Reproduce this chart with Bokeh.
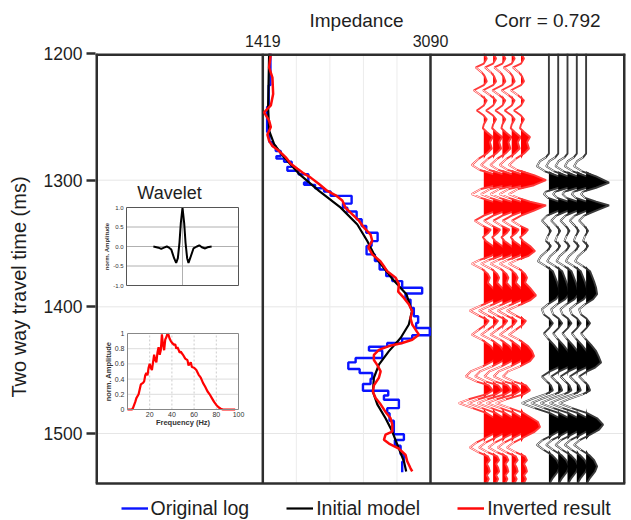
import numpy as np
from bokeh.plotting import figure
from bokeh.models import (Range1d, LinearAxis, FixedTicker, Legend, LegendItem,
                          CustomJSTickFormatter)
from bokeh.core.properties import value
from bokeh.embed import file_html
from bokeh.resources import INLINE

FONT = "Liberation Sans"

# ---------------- data ----------------
y_ticks = [1200, 1300, 1400, 1500]
imp_ticks = [1419, 3090]

# Original log (blocky): layer tops (ms) and impedance
blue_top = [1200, 1225, 1242, 1262, 1270, 1273, 1277, 1281, 1283, 1285.5,
            1289.5, 1292.6, 1295.3, 1301.9, 1303.7, 1306.4, 1309, 1312.4, 1318.5, 1321.7,
            1324.8, 1330.9, 1336.2, 1341.5, 1348.1, 1352, 1358.6, 1363.9, 1370.5, 1375.8,
            1379.7, 1385, 1389.5, 1394.3, 1400.8, 1407.4, 1412.7, 1416.7, 1422.5, 1425.1,
            1428.6, 1431.5, 1434.6, 1440.4, 1443.9, 1449.1, 1452.3, 1456.8, 1461, 1466.3,
            1470, 1473.4, 1480, 1484, 1490, 1500.6, 1505.1, 1509.6, 1516.4, 1522.3]
blue_imp = [1495, 1478, 1462, 1485, 1515, 1548, 1598, 1555, 1631, 1707,
            1664, 1774, 1873, 1830, 1940, 2029, 2095, 2304, 2218, 2261,
            2354, 2404, 2450, 2563, 2503, 2453, 2536, 2583, 2649, 2709,
            2808, 3007, 2841, 2891, 2924, 2967, 2947, 3083, 2908, 2808,
            2659, 2477, 2609, 2344, 2271, 2384, 2510, 2493, 2417, 2669,
            2626, 2775, 2659, 2682, 2725, 2825, 2735, 2792, 2825, 2808]
blue_end = 1530.7

# Initial model
black_t = [1200, 1242, 1261, 1271.5, 1282, 1295, 1308.5, 1321.7, 1335, 1348, 1361, 1377, 1390,
           1403.5, 1414, 1424.6, 1435, 1445.7, 1456, 1467, 1477, 1488, 1498.5, 1512, 1522, 1530]
black_imp = [1482, 1472, 1482, 1532, 1631, 1780, 1979, 2195, 2361, 2460, 2543, 2700, 2850,
             2905, 2874, 2792, 2676, 2576, 2526, 2516, 2560, 2642, 2709, 2775, 2825, 2848]

# Inverted result
red_t = [1200, 1211, 1219, 1232, 1241, 1246.5, 1253, 1258, 1264, 1269,
         1273, 1277, 1282, 1287, 1291, 1294, 1298, 1303, 1308.5, 1312,
         1316, 1322, 1327, 1332, 1337.5, 1343, 1348, 1353, 1358.6, 1364,
         1368, 1372, 1377, 1382, 1388, 1393, 1398, 1403.5, 1409, 1414,
         1418, 1422, 1426, 1428.6, 1431, 1434, 1438, 1442, 1446, 1451,
         1456, 1462, 1467, 1472, 1477, 1483, 1488, 1493, 1498.5, 1501,
         1505, 1508, 1512, 1517, 1522, 1527.5, 1530]
red_imp = [1499, 1482, 1515, 1522, 1499, 1432, 1482, 1499, 1465, 1482,
           1515, 1581, 1648, 1698, 1764, 1814, 1896, 1979, 2062, 2145,
           2211, 2245, 2311, 2377, 2427, 2493, 2510, 2470, 2510, 2590,
           2626, 2659, 2742, 2775, 2768, 2825, 2874, 2908, 2891, 2908,
           2941, 2974, 2908, 2808, 2676, 2576, 2526, 2526, 2560, 2593,
           2576, 2526, 2516, 2543, 2593, 2642, 2692, 2709, 2709, 2642,
           2626, 2676, 2775, 2842, 2858, 2891, 2908]

# Synthetic trace from inverted result (red) and seismic trace (black)
syn_t = [1200, 1204, 1208, 1211, 1215, 1218, 1222, 1225, 1229, 1233,
         1237, 1241, 1245, 1249, 1252, 1256, 1259, 1262, 1266, 1270,
         1275, 1279, 1283, 1288, 1292, 1296, 1300, 1304, 1307, 1311,
         1314, 1317, 1320, 1324, 1328, 1332, 1336, 1339, 1342, 1345,
         1348, 1352, 1356, 1360, 1363, 1366, 1370, 1374, 1377, 1381,
         1385, 1391, 1395, 1399, 1403, 1407, 1411, 1414, 1418, 1422,
         1426, 1431, 1435, 1439, 1443, 1447, 1451, 1455, 1459, 1462,
         1466, 1469, 1473, 1476, 1480, 1484, 1488, 1491, 1495, 1499,
         1503, 1507, 1511, 1515, 1518, 1521, 1524, 1527, 1530, 1533,
         1536, 1539]
syn_a = [0, 3, 0, -8, -2, 1, 3, 0, -10, -3,
         3, 0, -7, 0, 3, 0, -1, 3, 9, 6,
         8, 3, -5, -12, -4, 13, 25, 13, -3, -12,
         -3, 9, 25, 13, 0, -9, -1, 7, 4, -1,
         2, 9, 14, 7, -4, -12, -2, 4, 6, 4,
         9, 15, 9, -3, -14, -5, 5, 2, -5, -12,
         -2, 7, 11, 13, 9, -1, -13, -18, -7, 5,
         9, 3, -15, -25, -11, 3, 11, 17, 19, 13,
         3, -7, -14, -5, 4, 6, 3, 5, 6, 3,
         5, 3]
seis_t = [1200, 1279, 1282, 1285, 1289, 1293, 1297, 1302, 1306, 1309,
          1311, 1314, 1317, 1320, 1324, 1328, 1332, 1336, 1340, 1344,
          1348, 1352, 1356, 1360, 1364, 1368, 1372, 1376, 1380, 1385,
          1390, 1394, 1398, 1402, 1406, 1409, 1413, 1417, 1421, 1425,
          1430, 1435, 1440, 1444, 1448, 1451, 1455, 1459, 1462, 1466,
          1469, 1473, 1476, 1480, 1484, 1488, 1493, 1497, 1501, 1505,
          1509, 1513, 1517, 1521, 1526, 1530, 1535, 1539]
seis_a = [0, 0, -3, -9, -12, -4, 10, 23, 10, -3,
          -5, -1, 10, 23, 10, -2, -7, -2, 2, -1,
          -3, 2, -2, -8, -11, -3, 4, 6, 8, 10,
          11, 7, -1, -7, -5, 0, 4, 0, -5, -1,
          5, 10, 13, 15, 9, 1, -7, -2, 2, 4,
          -3, -18, -27, -14, 1, 11, 17, 13, 4, -6,
          -12, -5, 3, 8, 11, 9, 4, 1]
red_traces = [0, 1, 2, 3, 4]
black_traces = [7, 8, 9, 10, 11]
corr_text = "Corr = 0.792"
imp_title = "Impedance"

# Wavelet
wav_t = [-52, -43, -38, -33, -28, -24, -20, -15, -11.3, -8.3, -5.4, -3, 0,
         3, 5.4, 8.3, 10.7, 13.7, 19.6, 25.6, 30, 34.5, 40.5, 44.6, 52]
wav_a = [0, -0.03, -0.06, -0.03, 0, -0.03, -0.08, -0.3, -0.42, -0.3, 0.1, 0.6, 1.0,
         0.6, 0.1, -0.3, -0.42, -0.3, -0.05, 0, 0.03, -0.02, -0.05, -0.02, 0]
wav_yticks = [-1, -0.5, 0, 0.5, 1]
wav_ylabels = ["-1.0", "-0.5", "0.0", "0.5", "1.0"]

# Spectrum
spec_f = [0, 4, 5, 7, 8, 10, 12, 14, 15, 16, 17, 18, 19, 20, 21, 22, 23, 24, 25, 26,
          27, 28, 29, 30, 31, 32, 33, 34, 35, 36, 37, 38, 39, 40, 42, 43, 44, 45, 47, 48,
          50, 52, 54, 55, 57, 58, 60, 62, 64, 66, 68, 70, 72, 74, 76, 78, 80, 82, 84, 86,
          90, 97]
spec_a = [0, 0, 0.02, 0.1, 0.15, 0.2, 0.33, 0.35, 0.37, 0.45, 0.48, 0.45, 0.55, 0.6, 0.55, 0.52,
          0.62, 0.72, 0.65, 0.62, 0.75, 0.82, 0.72, 0.78, 0.99, 0.85, 0.78, 0.92, 0.95, 1.0,
          0.98, 0.93, 0.9, 0.88, 0.85, 0.86, 0.8, 0.82, 0.75, 0.76, 0.72, 0.67, 0.65, 0.58,
          0.62, 0.56, 0.55, 0.52, 0.46, 0.42, 0.35, 0.3, 0.24, 0.2, 0.15, 0.1, 0.06, 0.03,
          0.01, 0, 0, 0]
spec_xticks = [20, 40, 60, 80, 100]
spec_xlabels = ["20", "40", "60", "80", "100"]
spec_yticks = [0, 0.2, 0.4, 0.6, 0.8, 1]
spec_ylabels = ["0", "0.2", "0.4", "0.6", "0.8", "1"]

# ---------------- layout constants (px) ----------------
B_L, B_T, B_R = 95, 53, 5
FRAME_W = 530
BOX_H = 430               # height of the drawn chart box
FRAME_H = 520 - B_T       # frame reaches the bottom so the legend fits inside it
IMP_PX = (167.3, 335.0)
TRACE0_PX, TRACE_DX = 388.3, 9.3
T_TOP, T_BOX = 1200, 1539.5
px_per_ms = BOX_H / (T_BOX - T_TOP)
T_BOT = T_TOP + FRAME_H / px_per_ms
F_BOTTOM = B_T + FRAME_H


def lin_range(v0, v1, p0, p1, total):
    k = (v1 - v0) / (p1 - p0)
    return Range1d(v0 - p0 * k, v0 + (total - p0) * k)


imp_range = lin_range(imp_ticks[0], imp_ticks[1], IMP_PX[0], IMP_PX[1], FRAME_W)
tr_range = Range1d(-TRACE0_PX / TRACE_DX, (FRAME_W - TRACE0_PX) / TRACE_DX)

DARK = "#2e2e2e"
TXT = "#1e1e1e"

p = figure(frame_width=FRAME_W, frame_height=FRAME_H, x_range=tr_range,
           y_range=Range1d(T_BOT, T_TOP), x_axis_location=None, y_axis_location="left",
           toolbar_location=None, output_backend="svg",
           min_border_left=B_L, min_border_top=B_T, min_border_right=B_R, min_border_bottom=0)
p.extra_x_ranges = {"imp": imp_range}
p.outline_line_color = None
p.background_fill_color = "white"
p.border_fill_color = "white"
for g in p.xgrid:
    g.visible = False
p.ygrid.ticker = FixedTicker(ticks=y_ticks[1:])
p.ygrid.grid_line_color = None

ya = p.yaxis[0]
ya.ticker = FixedTicker(ticks=y_ticks)
ya.axis_label = "Two way travel time (ms)"
ya.axis_label_text_font = FONT
ya.axis_label_text_font_size = "20px"
ya.axis_label_text_font_style = "normal"
ya.axis_label_text_color = TXT
ya.axis_label_standoff = 11
ya.major_label_text_font = FONT
ya.major_label_text_font_size = "17.5px"
ya.major_label_text_color = TXT
ya.major_label_standoff = 4
ya.major_tick_out = 9
ya.major_tick_in = 0
ya.major_tick_line_width = 2.5
ya.major_tick_line_color = DARK
ya.minor_tick_line_color = None
ya.axis_line_color = None

# top axis with impedance limits
ta = LinearAxis(x_range_name="imp", ticker=FixedTicker(ticks=imp_ticks))
ta.major_label_text_font = FONT
ta.major_label_text_font_size = "16px"
ta.major_label_text_color = TXT
ta.major_label_standoff = 7
ta.major_tick_out = 0
ta.major_tick_in = 0
ta.minor_tick_line_color = None
ta.axis_line_color = None
p.add_layout(ta, "above")

# second top row: panel titles
title_px = [356 - B_L, 547 - B_L]
title_pos = [round((x - TRACE0_PX) / TRACE_DX, 2) for x in title_px]
tb = LinearAxis(ticker=FixedTicker(ticks=title_pos),
                formatter=CustomJSTickFormatter(args=dict(labels=[imp_title, corr_text]),
                                                code="return labels[index]"))
tb.major_label_text_font = FONT
tb.major_label_text_font_size = "19px"
tb.major_label_text_color = TXT
tb.major_label_standoff = 1
tb.major_tick_out = 0
tb.major_tick_in = 0
tb.minor_tick_line_color = None
tb.axis_line_color = None
p.add_layout(tb, "above")

x_lo, x_hi = tr_range.start, tr_range.end

# horizontal grid inside the box
p.segment(x0=x_lo, x1=x_hi, y0=y_ticks[1:], y1=y_ticks[1:], line_color="#e6e6e6", line_width=1)

# impedance panel grid + dividers
step = (imp_ticks[1] - imp_ticks[0]) / 5
imp_grid = [imp_ticks[0] + k * step for k in range(1, 5)]
p.segment(x0=imp_grid, x1=imp_grid, y0=T_TOP, y1=T_BOX, x_range_name="imp",
          line_color="#ececec", line_width=1)
p.segment(x0=imp_ticks, x1=imp_ticks, y0=T_TOP, y1=T_BOX, x_range_name="imp",
          line_color=DARK, line_width=2.5)

# impedance curves
bx, by = [], []
for i, v in enumerate(blue_imp):
    top = blue_top[i]
    bot = blue_top[i + 1] if i + 1 < len(blue_top) else blue_end
    bx += [v, v]
    by += [top, bot]
r_blue = p.line(bx, by, x_range_name="imp", line_color="#0a14ff", line_width=2.4)
r_black = p.line(black_imp, black_t, x_range_name="imp", line_color="black", line_width=2.2)
r_red = p.line(red_imp, red_t, x_range_name="imp", line_color="#ff0a0a", line_width=2.5)

# wiggle traces
gain = 1.0 / TRACE_DX


def draw_trace(base, tt, aa, fill, edge, width, inner):
    xs = [base + gain * a for a in aa]
    xp = [base + gain * max(a, 0) for a in aa]
    xn = [base + gain * a if a < 0 else np.nan for a in aa]
    p.harea(x1=[base] * len(tt), x2=xp, y=tt, fill_color=fill, fill_alpha=1)
    p.line(xs, tt, line_color=edge, line_width=width)
    p.line(xn, tt, line_color="white", line_width=inner)


for b in red_traces:
    draw_trace(b, syn_t, syn_a, "#ff0000", "#ff3a3a", 1.9, 0.9)
for b in black_traces:
    draw_trace(b, seis_t, seis_a, "black", "#3a3a3a", 1.9, 0.9)

# chart box (outer edges are half clipped by the frame, hence doubled widths)
p.segment(x0=[x_lo, x_lo], x1=[x_hi, x_hi], y0=[T_TOP, T_BOX], y1=[T_TOP, T_BOX],
          line_color=DARK, line_width=[5, 2.5])
p.segment(x0=[x_lo, x_hi], x1=[x_lo, x_hi], y0=T_TOP, y1=T_BOX,
          line_color=DARK, line_width=5)

legend = Legend(items=[LegendItem(label="Original log", renderers=[r_blue]),
                       LegendItem(label="Initial model", renderers=[r_black]),
                       LegendItem(label="Inverted result", renderers=[r_red])],
                location=(120.5 - B_L, 0), orientation="horizontal",
                label_text_font=FONT, label_text_font_size="19.5px", label_text_color=TXT,
                glyph_width=27, glyph_height=24, label_height=24, label_standoff=3,
                spacing=37, padding=0, margin=0, border_line_color=None,
                background_fill_alpha=0)
p.add_layout(legend, "center")


# ---------------- insets drawn inside the left panel ----------------
def inset(name, xv, yv, box):
    # box = (left, top, right, bottom) in canvas px
    l, t, r, b = box
    p.extra_x_ranges[name + "x"] = lin_range(xv[0], xv[1], l - B_L, r - B_L, FRAME_W)
    p.extra_y_ranges[name + "y"] = lin_range(yv[0], yv[1], F_BOTTOM - b, F_BOTTOM - t, FRAME_H)
    kx = (xv[1] - xv[0]) / (r - l)
    ky = (yv[1] - yv[0]) / (b - t)
    return dict(x_range_name=name + "x", y_range_name=name + "y"), kx, ky


# wavelet
WBOX = (126, 207, 238, 285)
wr, wkx, wky = inset("w", (-100, 100), (-1, 1), WBOX)
p.quad(left=-100, right=100, bottom=-1, top=1, fill_color="white", line_color=None, **wr)
p.segment(x0=-100, x1=100, y0=wav_yticks[1:-1], y1=wav_yticks[1:-1],
          line_color="#b0b0b0", line_width=1, **wr)
p.segment(x0=0, x1=0, y0=-1, y1=1, line_color="#b0b0b0", line_width=1, **wr)
p.line(wav_t, wav_a, line_color="black", line_width=2, **wr)
p.quad(left=-100, right=100, bottom=-1, top=1, fill_color=None, line_color="#555555",
       line_width=1, **wr)
p.text(x=[-100 - 3 * wkx] * len(wav_yticks), y=wav_yticks, text=wav_ylabels,
       text_align="right", text_baseline="middle", text_font=value(FONT),
       text_font_size="6px", text_color="#333333", **wr)
p.text(x=[-100 - 20 * wkx], y=[0], text=["norm. Amplitude"], angle=np.pi / 2,
       text_align="center", text_baseline="middle", text_font=value(FONT),
       text_font_size="6px", text_font_style="bold", text_color="#333333", **wr)
p.text(x=[-100 + 43 * wkx], y=[1 + 15 * wky], text=["Wavelet"],
       text_align="center", text_baseline="middle", text_font=value(FONT),
       text_font_size="18px", text_color=TXT, **wr)

# spectrum
SBOX = (127, 333, 238, 409)
sr, skx, sky = inset("s", (0, 100), (0, 1), SBOX)
p.quad(left=0, right=100, bottom=0, top=1, fill_color="white", line_color=None, **sr)
p.segment(x0=0, x1=100, y0=spec_yticks[1:-1], y1=spec_yticks[1:-1],
          line_color="#dddddd", line_width=1, **sr)
p.segment(x0=spec_xticks[:-1], x1=spec_xticks[:-1], y0=0, y1=1,
          line_color="#cccccc", line_width=1, line_dash="2 2", **sr)
p.line(spec_f, spec_a, line_color="#ff0000", line_width=2.2, **sr)
p.quad(left=0, right=100, bottom=0, top=1, fill_color=None, line_color="#888888",
       line_width=1, **sr)
p.text(x=[-3 * skx] * len(spec_yticks), y=spec_yticks, text=spec_ylabels,
       text_align="right", text_baseline="middle", text_font=value(FONT),
       text_font_size="7px", text_color="#333333", **sr)
p.text(x=spec_xticks, y=[-2 * sky] * len(spec_xticks), text=spec_xlabels,
       text_align="center", text_baseline="top", text_font=value(FONT),
       text_font_size="7px", text_color="#333333", **sr)
p.text(x=[50], y=[-13 * sky], text=["Frequency (Hz)"],
       text_align="center", text_baseline="middle", text_font=value(FONT),
       text_font_size="7.5px", text_font_style="bold", text_color="#333333", **sr)
p.text(x=[-19 * skx], y=[0.5], text=["norm. Amplitude"], angle=np.pi / 2,
       text_align="center", text_baseline="middle", text_font=value(FONT),
       text_font_size="7.5px", text_font_style="bold", text_color="#333333", **sr)

open("out.html", "w").write(file_html(p, INLINE))
